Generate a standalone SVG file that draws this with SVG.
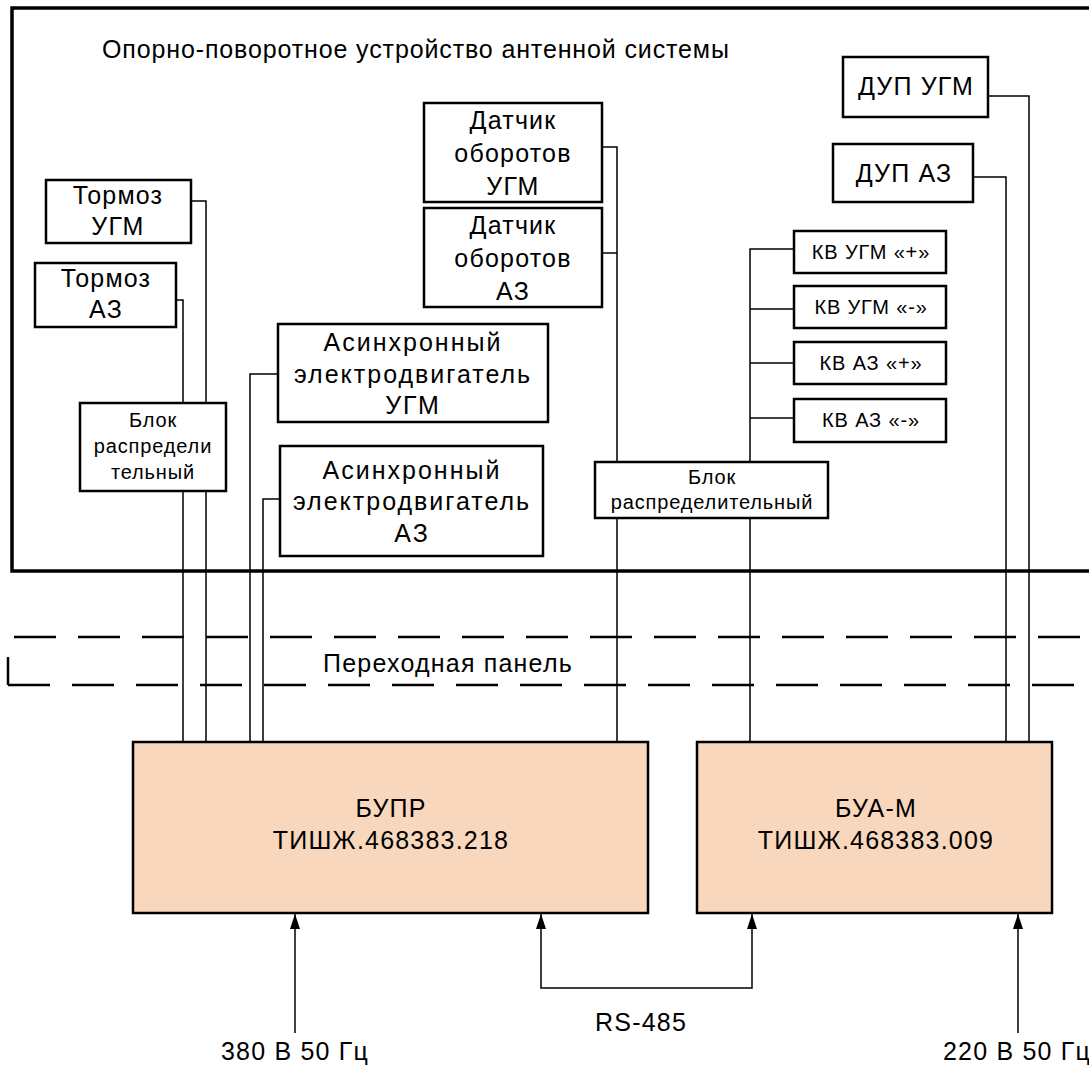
<svg xmlns="http://www.w3.org/2000/svg" width="1089" height="1066" viewBox="0 0 1089 1066">
<defs>
<style>
text{font-family:"Liberation Sans",Arial,sans-serif;fill:#000;text-anchor:middle}
.t25{font-size:25px;letter-spacing:1.2px}
.ta{font-size:25px;letter-spacing:2px}
.t21{font-size:20px;letter-spacing:0.85px}
.box{fill:#fff;stroke:#000;stroke-width:2.5}
.main{fill:#F9D7BC;stroke:#000;stroke-width:2.5}
.wire{fill:none;stroke:#000;stroke-width:1.5}
.dash{fill:none;stroke:#000;stroke-width:2.5;stroke-dasharray:42 22}
</style>
<marker id="arr" viewBox="0 0 15 10" refX="15" refY="5" markerWidth="15" markerHeight="10" markerUnits="userSpaceOnUse" orient="auto-start-reverse">
<path d="M0 0 L15 5 L0 10 Z" fill="#000"/>
</marker>
</defs>
<rect width="1089" height="1066" fill="#fff"/>

<g id="frame">
<path d="M1089 8 H12 V571 H1089" fill="none" stroke="#000" stroke-width="3.5"/>
<text x="102" y="58" style="text-anchor:start;font-size:25px;letter-spacing:0.87px">Опорно-поворотное устройство антенной системы</text>
</g>

<g id="panel">
<line x1="14" y1="637" x2="1089" y2="637" class="dash"/>
<path d="M8 657 V685" fill="none" stroke="#000" stroke-width="2.5"/>
<line x1="8" y1="685" x2="1089" y2="685" class="dash"/>
<text x="448" y="672" class="t25">Переходная панель</text>
</g>

<g id="connectors">
<path class="wire" d="M191 201 H206 V742"/>
<path class="wire" d="M176 300 H183 V742"/>
<path class="wire" d="M278 374 H250 V742"/>
<path class="wire" d="M280 499 H263 V742"/>
<path class="wire" d="M602 147 H617 V742"/>
<path class="wire" d="M602 253 H617"/>
<path class="wire" d="M988 96 H1029 V742"/>
<path class="wire" d="M973 177 H1006 V742"/>
<path class="wire" d="M794 249 H750 V742"/>
<path class="wire" d="M794 309 H750"/>
<path class="wire" d="M794 363 H750"/>
<path class="wire" d="M794 418 H750"/>
<path class="wire" d="M295 1033 V914" marker-end="url(#arr)"/>
<path class="wire" d="M1018 1033 V914" marker-end="url(#arr)"/>
<path class="wire" d="M541 914 V988 H752 V914" marker-start="url(#arr)" marker-end="url(#arr)"/>
</g>

<g id="tormoz-ugm">
<rect class="box" x="46" y="180" width="145" height="63"/>
<text class="t25" x="118" y="204">Тормоз</text>
<text class="t25" x="118" y="235">УГМ</text>
</g>
<g id="tormoz-az">
<rect class="box" x="35" y="263" width="141" height="64"/>
<text class="t25" x="106" y="287">Тормоз</text>
<text class="t25" x="106" y="318">АЗ</text>
</g>
<g id="blok-left">
<rect class="box" x="80" y="403" width="146" height="88"/>
<text class="t21" x="153" y="427">Блок</text>
<text class="t21" x="153" y="453">распредели</text>
<text class="t21" x="153" y="479">тельный</text>
</g>
<g id="async-ugm">
<rect class="box" x="278" y="324" width="270" height="98"/>
<text class="ta" x="413" y="351">Асинхронный</text>
<text class="ta" x="413" y="383">электродвигатель</text>
<text class="ta" x="413" y="414">УГМ</text>
</g>
<g id="async-az">
<rect class="box" x="280" y="446" width="263" height="110"/>
<text class="ta" x="412" y="479">Асинхронный</text>
<text class="ta" x="412" y="510">электродвигатель</text>
<text class="ta" x="412" y="542">АЗ</text>
</g>
<g id="datchik-ugm">
<rect class="box" x="424" y="103" width="178" height="99"/>
<text class="t25" x="513" y="129">Датчик</text>
<text class="t25" x="513" y="162">оборотов</text>
<text class="t25" x="513" y="195">УГМ</text>
</g>
<g id="datchik-az">
<rect class="box" x="424" y="208" width="178" height="99"/>
<text class="t25" x="513" y="234">Датчик</text>
<text class="t25" x="513" y="267">оборотов</text>
<text class="t25" x="513" y="300">АЗ</text>
</g>
<g id="dup-ugm">
<rect class="box" x="843" y="57" width="145" height="60"/>
<text class="t25" x="916" y="95">ДУП УГМ</text>
</g>
<g id="dup-az">
<rect class="box" x="833" y="144" width="140" height="58"/>
<text class="t25" x="904" y="182">ДУП АЗ</text>
</g>
<g id="kv-ugm-plus">
<rect class="box" x="794" y="231" width="152" height="42"/>
<text class="t21" x="871" y="259">КВ УГМ «+»</text>
</g>
<g id="kv-ugm-minus">
<rect class="box" x="794" y="286" width="152" height="42"/>
<text class="t21" x="871" y="314">КВ УГМ «-»</text>
</g>
<g id="kv-az-plus">
<rect class="box" x="794" y="342" width="152" height="42"/>
<text class="t21" x="871" y="370">КВ АЗ «+»</text>
</g>
<g id="kv-az-minus">
<rect class="box" x="794" y="399" width="152" height="43"/>
<text class="t21" x="871" y="427">КВ АЗ «-»</text>
</g>
<g id="blok-right">
<rect class="box" x="595" y="462" width="233" height="56"/>
<text class="t21" x="712" y="484">Блок</text>
<text class="t21" x="712" y="509">распределительный</text>
</g>
<g id="bupr">
<rect class="main" x="133" y="742" width="515" height="171"/>
<text class="t25" x="391" y="817">БУПР</text>
<text class="t25" x="391" y="849">ТИШЖ.468383.218</text>
</g>
<g id="bua">
<rect class="main" x="697" y="742" width="355" height="171"/>
<text class="t25" x="876" y="817">БУА-М</text>
<text class="t25" x="876" y="849">ТИШЖ.468383.009</text>
</g>
<g id="labels">
<text class="t25" x="295" y="1060">380 В 50 Гц</text>
<text class="t25" x="641" y="1031">RS-485</text>
<text class="t25" x="1017" y="1060">220 В 50 Гц</text>
</g>
</svg>
